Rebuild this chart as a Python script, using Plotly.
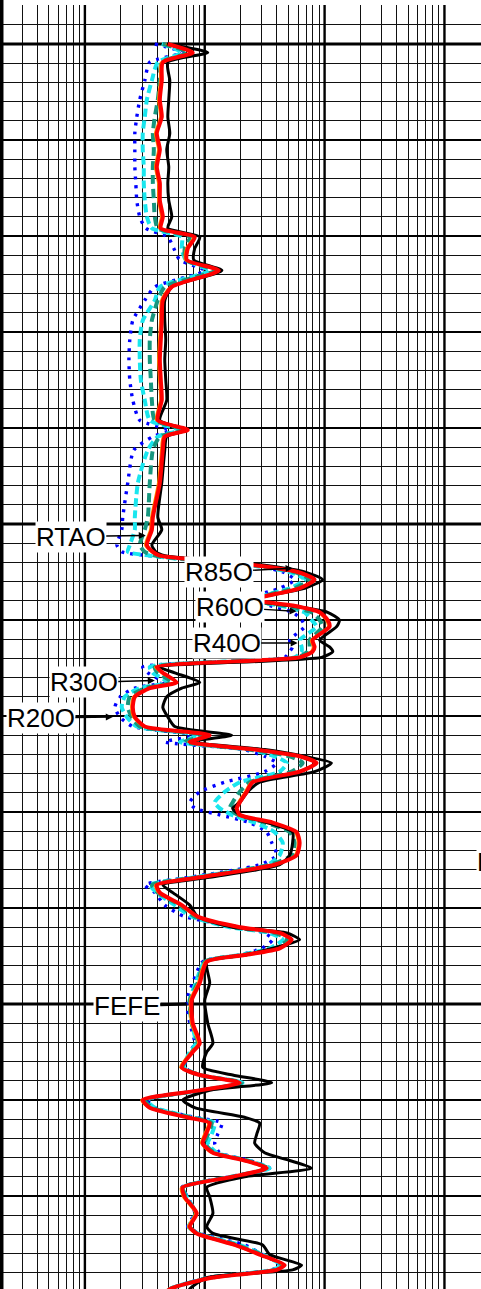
import math
import plotly.graph_objects as go

# Measured depth (m) shared by all resistivity curves
depth_m = [
    1400.0, 1400.9, 1401.9, 1403.8, 1405.8, 1407.6, 1409.3, 1411.0, 1412.8, 1414.5,
    1416.3, 1418.0, 1419.2, 1420.1, 1421.3, 1422.5, 1423.6, 1425.3, 1426.7, 1428.8,
    1430.8, 1432.9, 1435.0, 1437.1, 1439.2, 1440.2, 1440.9, 1442.3, 1445.7, 1449.3,
    1450.6, 1452.2, 1452.9, 1453.3, 1453.8, 1454.3, 1455.0, 1455.8, 1456.7, 1457.9,
    1458.5, 1459.2, 1460.0, 1460.7, 1462.1, 1462.8, 1463.3, 1463.9, 1464.9, 1465.5,
    1466.5, 1467.1, 1468.0, 1469.1, 1470.1, 1471.1, 1472.0, 1472.7, 1473.5, 1474.2,
    1474.9, 1475.8, 1476.9, 1477.9, 1479.0, 1479.6, 1480.3, 1481.1, 1482.1, 1483.2,
    1484.5, 1485.5, 1486.8, 1487.6, 1488.4, 1489.7, 1490.9, 1492.0, 1492.6, 1493.3,
    1494.2, 1494.9, 1495.6, 1497.8, 1499.6, 1502.0, 1504.1, 1505.0, 1506.6, 1507.4,
    1508.2, 1509.0, 1510.0, 1510.8, 1511.8, 1512.4, 1513.6, 1514.5, 1515.5, 1516.3,
    1517.1, 1518.0, 1519.1, 1520.1, 1521.8, 1523.2, 1523.9, 1525.1, 1526.1, 1527.2,
    1527.7, 1528.5, 1529.7, 1530.8,
]

# Resistivity curves (ohm.m)
rtao = [
    4.82, 10.6, 4.92, 5.11, 5.01, 4.92, 5.11, 4.82, 5.01, 4.92,
    5.01, 5.31, 4.92, 9.09, 8.25, 8.10, 13.9, 5.31, 4.64, 4.64,
    4.73, 4.64, 4.73, 4.82, 4.22, 7.08, 4.82, 4.64, 4.38, 4.06,
    4.38, 3.62, 3.91, 4.64, 12.1, 31.6, 68.1, 96.2, 68.1, 23.7,
    51.1, 106, 133, 126, 90.9, 110, 117, 94.4, 4.22, 5.62,
    9.09, 6.43, 4.82, 4.47, 4.92, 5.62, 16.8, 7.50, 31.6, 68.1,
    114, 82.5, 28.7, 22.8, 19.6, 17.1, 19.6, 32.9, 54.1, 54.1,
    51.1, 42.2, 11.0, 4.47, 5.41, 7.50, 8.74, 17.1, 48.3, 61.9,
    36.9, 21.5, 10.4, 11.0, 10.0, 10.6, 11.7, 10.4, 9.62, 17.1,
    36.2, 11.0, 6.56, 8.25, 21.5, 28.7, 27.1, 26.1, 31.6, 51.1,
    77.9, 21.5, 10.4, 11.0, 11.7, 10.4, 11.7, 30.4, 34.8, 64.3,
    54.1, 10.4, 7.50, 6.81,
]
r85o = [
    4.92, 7.94, 4.47, 4.38, 4.22, 4.38, 3.98, 4.22, 3.98, 4.22,
    4.22, 4.47, 4.30, 8.25, 7.22, 7.08, 13.1, 5.31, 4.47, 4.38,
    4.30, 4.22, 4.30, 4.38, 4.06, 7.22, 4.64, 4.47, 4.22, 3.69,
    3.62, 3.29, 3.69, 4.22, 10.0, 26.1, 59.6, 82.5, 61.9, 25.1,
    54.1, 90.9, 106, 110, 79.4, 82.5, 79.4, 61.9, 3.98, 4.47,
    5.84, 3.48, 2.61, 2.51, 2.61, 3.16, 11.0, 7.50, 26.1, 61.9,
    85.8, 61.9, 25.1, 22.4, 19.6, 18.5, 19.6, 36.9, 58.4, 61.9,
    58.4, 38.3, 9.09, 3.98, 4.22, 6.43, 8.74, 19.6, 42.2, 53.1,
    42.2, 21.5, 10.4, 9.09, 7.79, 7.94, 9.09, 7.94, 6.43, 9.09,
    19.6, 9.09, 3.04, 3.48, 7.08, 11.0, 10.2, 9.62, 11.7, 21.5,
    32.9, 17.1, 6.56, 6.81, 8.58, 7.50, 8.58, 17.8, 28.7, 46.4,
    39.8, 11.7, 5.11, 4.22,
]
r60o = [
    4.73, 7.64, 4.30, 4.22, 4.06, 4.22, 3.83, 4.06, 3.83, 4.06,
    4.06, 4.30, 4.14, 7.94, 6.95, 6.81, 12.6, 5.11, 4.30, 4.22,
    4.14, 4.06, 4.14, 4.22, 3.91, 6.95, 4.47, 4.30, 4.06, 3.55,
    3.48, 3.16, 3.55, 4.06, 9.62, 25.1, 57.3, 79.4, 59.6, 24.2,
    52.1, 87.5, 102, 106, 76.4, 79.4, 76.4, 59.6, 3.83, 4.30,
    5.62, 3.35, 2.51, 2.42, 2.51, 3.04, 10.6, 7.22, 25.1, 59.6,
    82.5, 59.6, 24.2, 21.5, 18.8, 17.8, 18.8, 35.5, 56.2, 59.6,
    56.2, 36.9, 8.74, 3.83, 4.06, 6.19, 8.41, 18.8, 40.6, 51.1,
    40.6, 20.7, 10.0, 8.74, 7.50, 7.64, 8.74, 7.64, 6.19, 8.74,
    18.8, 8.74, 2.93, 3.35, 6.81, 10.6, 9.81, 9.26, 11.2, 20.7,
    31.6, 16.5, 6.31, 6.55, 8.26, 7.22, 8.26, 17.1, 27.6, 44.7,
    38.3, 11.3, 4.92, 4.06,
]
r40o = [
    4.47, 7.22, 4.38, 4.22, 4.06, 3.83, 3.69, 3.76, 3.69, 3.69,
    3.76, 3.83, 4.06, 7.50, 6.81, 6.95, 12.1, 4.64, 4.06, 3.62,
    3.48, 3.48, 3.55, 3.62, 3.83, 6.81, 4.22, 3.69, 3.48, 3.35,
    3.16, 2.87, 3.16, 3.83, 9.09, 26.1, 56.2, 75.0, 56.2, 23.7,
    46.4, 77.9, 90.9, 96.2, 75.0, 75.0, 72.2, 59.6, 3.83, 4.06,
    5.31, 3.16, 2.37, 2.28, 2.46, 2.87, 10.0, 6.81, 23.7, 51.1,
    65.6, 53.1, 23.7, 19.6, 17.1, 16.2, 18.8, 31.6, 51.1, 56.2,
    53.1, 34.8, 8.74, 3.62, 4.06, 6.19, 8.25, 17.8, 38.3, 49.2,
    38.3, 20.7, 10.0, 8.74, 7.50, 7.79, 8.74, 7.79, 6.56, 9.09,
    20.4, 9.44, 3.16, 3.62, 7.50, 11.4, 10.6, 10.0, 12.1, 22.4,
    33.5, 16.8, 6.56, 6.95, 8.41, 7.50, 8.74, 18.5, 29.9, 44.7,
    38.3, 11.4, 5.11, 4.22,
]
r30o = [
    4.38, 6.43, 4.06, 3.62, 3.29, 3.16, 3.04, 3.04, 3.10, 3.10,
    3.16, 3.29, 3.62, 6.43, 6.43, 6.95, 11.0, 4.22, 3.83, 3.04,
    2.87, 2.87, 2.93, 3.16, 3.48, 6.19, 4.06, 3.35, 2.77, 2.61,
    2.61, 2.37, 2.28, 3.48, 8.25, 23.7, 51.1, 68.1, 51.1, 23.7,
    42.2, 68.1, 77.9, 85.8, 61.9, 64.3, 64.3, 56.2, 3.48, 3.69,
    4.92, 2.87, 2.15, 2.03, 2.24, 2.71, 9.09, 6.19, 23.7, 38.3,
    48.3, 42.2, 19.6, 14.7, 12.1, 13.3, 16.8, 26.1, 38.3, 44.7,
    42.2, 33.5, 8.25, 3.48, 3.98, 5.62, 7.79, 16.2, 34.8, 44.7,
    34.8, 19.6, 10.0, 8.41, 7.50, 7.79, 8.41, 7.50, 6.68, 9.09,
    20.7, 9.44, 3.29, 3.83, 7.79, 12.1, 11.4, 10.6, 12.6, 22.8,
    34.8, 16.8, 6.56, 7.08, 8.41, 7.36, 8.74, 19.6, 30.4, 43.4,
    36.9, 11.0, 5.11, 4.22,
]
r20o = [
    3.83, 6.56, 3.48, 3.16, 2.87, 2.71, 2.61, 2.61, 2.61, 2.66,
    2.71, 2.87, 3.22, 4.92, 5.52, 6.19, 10.0, 3.83, 3.16, 2.51,
    2.37, 2.33, 2.37, 2.51, 2.87, 5.11, 3.69, 2.56, 2.28, 2.07,
    2.03, 1.85, 2.03, 3.48, 10.0, 26.1, 44.7, 56.2, 42.2, 20.7,
    34.8, 54.1, 64.3, 68.1, 51.1, 54.1, 51.1, 46.4, 3.04, 3.35,
    4.47, 2.61, 1.96, 1.78, 1.96, 2.51, 8.25, 4.64, 21.5, 31.6,
    39.8, 31.6, 14.7, 9.09, 7.50, 8.25, 13.3, 23.7, 32.9, 36.2,
    39.8, 28.7, 7.50, 3.16, 3.83, 4.64, 6.81, 19.6, 31.6, 36.9,
    29.9, 19.6, 9.62, 7.94, 7.08, 7.50, 8.25, 7.50, 6.81, 9.09,
    20.4, 9.09, 3.35, 3.83, 8.25, 13.9, 12.8, 12.1, 13.3, 23.7,
    34.8, 16.2, 6.43, 7.22, 8.25, 7.22, 9.09, 21.5, 30.4, 42.2,
    36.2, 10.6, 5.11, 4.22,
]

# Curve labels: the point each label's leader line touches (ohm.m, m)
label_names = ["RTAO", "R85O", "R60O", "R40O", "R30O", "R20O", "FEFE"]
label_values = [3.22, 54.1, 58.4, 59.6, 3.83, 1.71, 7.08]
label_depths = [1451.2, 1454.6, 1459.1, 1462.4, 1466.3, 1470.1, 1500.0]

# Grid
decade_values = [1, 10, 100, 1000]
heavy_depths = [1400, 1450, 1500]

X_RANGE = [-0.7083, 3.305]
Y_RANGE = [1529.69, 1395.94]
FONT = "Liberation Sans, Arial, sans-serif"

fig = go.Figure()

# heavier decade lines of the logarithmic grid
gx, gy = [], []
for v in decade_values:
    gx += [v, v, None]
    gy += [Y_RANGE[0] + 2, Y_RANGE[1] - 2, None]
fig.add_trace(go.Scatter(x=gx, y=gy, mode="lines",
                         line=dict(color="black", width=2.4),
                         hoverinfo="skip", showlegend=False))

curves = [
    ("R20O", r20o, dict(color="#0000ff", width=3.4, dash="3px,6px")),
    ("R30O", r30o, dict(color="#19e6ee", width=4, dash="8px,4px")),
    ("R40O", r40o, dict(color="#17967e", width=4, dash="9px,5px")),
    ("R60O", r60o, dict(color="#ff8c00", width=1.6)),
    ("RTAO", rtao, dict(color="black", width=3)),
    ("R85O", r85o, dict(color="#ff0000", width=4)),
]
for name, vals, style in curves:
    style = dict(style, shape="spline", smoothing=0.6)
    fig.add_trace(go.Scatter(x=vals, y=depth_m, mode="lines", name=name,
                             line=style, showlegend=False))

shapes = []
for d in heavy_depths:
    shapes.append(dict(type="line", xref="paper", x0=0, x1=1, yref="y", y0=d, y1=d,
                       line=dict(color="black", width=3.2), layer="below"))
# left edge of the track
shapes.append(dict(type="line", xref="paper", x0=0.0036, x1=0.0036, yref="paper",
                   y0=0, y1=1.01, line=dict(color="black", width=3.5), layer="above"))

offsets = {
    "RTAO": (-75, 1), "R85O": (-74, 4), "R60O": (-67, -4), "R40O": (-71, 0),
    "R30O": (-71, 2), "R20O": (-72, 1), "FEFE": (-60, 2),
}
annotations = []
for name, v, d in zip(label_names, label_values, label_depths):
    ax, ay = offsets[name]
    plain = name == "FEFE"
    annotations.append(dict(
        x=math.log10(v), y=d, xref="x", yref="y", text=name,
        showarrow=True, ax=ax, ay=ay, axref="pixel", ayref="pixel",
        arrowhead=0 if plain else 2, arrowsize=1, arrowwidth=3 if plain else 1.4,
        arrowcolor="black", font=dict(family=FONT, size=26, color="black"),
        bgcolor="white", borderpad=0,
    ))
# label of the neighbouring track, cut by the right edge
annotations.append(dict(x=476 / 481, y=1485.2, xref="paper", yref="y", text="FEFE",
                        showarrow=False, xanchor="left", yanchor="middle",
                        font=dict(family=FONT, size=26, color="black"),
                        bgcolor="white", borderpad=0))

fig.update_layout(
    width=481, height=1289,
    margin=dict(l=0, r=0, t=5, b=0),
    paper_bgcolor="white", plot_bgcolor="white",
    showlegend=False,
    shapes=shapes, annotations=annotations,
    xaxis=dict(type="log", range=X_RANGE, dtick="D1", showgrid=True,
               gridcolor="#111111", gridwidth=1.2, showticklabels=False,
               ticks="", zeroline=False, showline=False, fixedrange=True),
    yaxis=dict(range=Y_RANGE, tick0=1400, dtick=10, showgrid=True,
               gridcolor="black", gridwidth=1.5, showticklabels=False,
               ticks="", zeroline=False, showline=False, fixedrange=True,
               minor=dict(tick0=1400, dtick=2, showgrid=True,
                          gridcolor="#111111", gridwidth=1.2)),
)

fig.write_html("out.html", config={"displayModeBar": False})
